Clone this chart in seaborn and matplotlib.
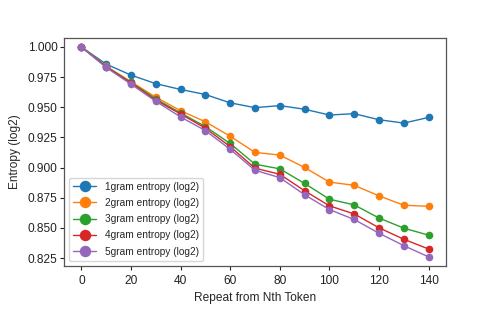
import numpy as np
import pandas as pd
import matplotlib
matplotlib.use("Agg")
import matplotlib.pyplot as plt
import seaborn as sns

# Values
repeat_from = [0, 10, 20, 30, 40, 50, 60, 70, 80, 90, 100, 110, 120, 130, 140]
gram1 = [1.000, 0.9858, 0.9767, 0.9696, 0.9648, 0.9606, 0.9537, 0.9497, 0.9514,
         0.9484, 0.9436, 0.9447, 0.9397, 0.9369, 0.9416]
gram2 = [1.000, 0.9840, 0.9712, 0.9584, 0.9472, 0.9380, 0.9260, 0.9126, 0.9104,
         0.9001, 0.8880, 0.8853, 0.8766, 0.8688, 0.8679]
gram3 = [1.000, 0.9838, 0.9707, 0.9570, 0.9453, 0.9340, 0.9200, 0.9028, 0.8990,
         0.8869, 0.8738, 0.8691, 0.8582, 0.8498, 0.8440]
gram4 = [1.000, 0.9836, 0.9703, 0.9559, 0.9445, 0.9327, 0.9174, 0.8995, 0.8945,
         0.8808, 0.8683, 0.8616, 0.8501, 0.8406, 0.8325]
gram5 = [1.000, 0.9830, 0.9692, 0.9550, 0.9420, 0.9307, 0.9152, 0.8978, 0.8917,
         0.8775, 0.8652, 0.8570, 0.8456, 0.8353, 0.8260]
labels = ["1gram entropy (log2)", "2gram entropy (log2)", "3gram entropy (log2)",
          "4gram entropy (log2)", "5gram entropy (log2)"]

frames = []
for name, vals in zip(labels, [gram1, gram2, gram3, gram4, gram5]):
    frames.append(pd.DataFrame({"repeat": repeat_from, "entropy": vals, "series": name}))
df = pd.concat(frames, ignore_index=True)

sns.set_style("ticks")
plt.rcParams["font.family"] = ["Liberation Sans", "DejaVu Sans"]

fig = plt.figure(figsize=(4.98, 3.11), dpi=100)
ax = fig.add_axes([0.1285, 0.145, 0.767, 0.733])
sns.lineplot(data=df, x="repeat", y="entropy", hue="series", marker="o",
             markersize=5.5, markeredgewidth=0, linewidth=1,
             palette="tab10", ax=ax)

for s in ax.spines.values():
    s.set_color("#555555")
    s.set_linewidth(0.9)
ax.tick_params(labelsize=8.6, colors="#222222", length=2.8, width=0.8)
ax.tick_params(axis="y", pad=2)
ax.set_xticks(range(0, 141, 20))
ax.set_yticks(np.arange(0.825, 1.001, 0.025))
ax.set_ylim(0.8185, 1.0075)
ax.set_xlim(-7, 147)
ax.set_xlabel("Repeat from Nth Token", fontsize=8.6)
ax.set_ylabel("Entropy (log2)", fontsize=8.6, labelpad=5)
ax.legend(loc="lower left", fontsize=7.3, markerscale=1.5, handlelength=2.3,
          labelspacing=0.62, frameon=True, edgecolor="#cccccc", fancybox=True)

fig.savefig("out.png", dpi=100)
